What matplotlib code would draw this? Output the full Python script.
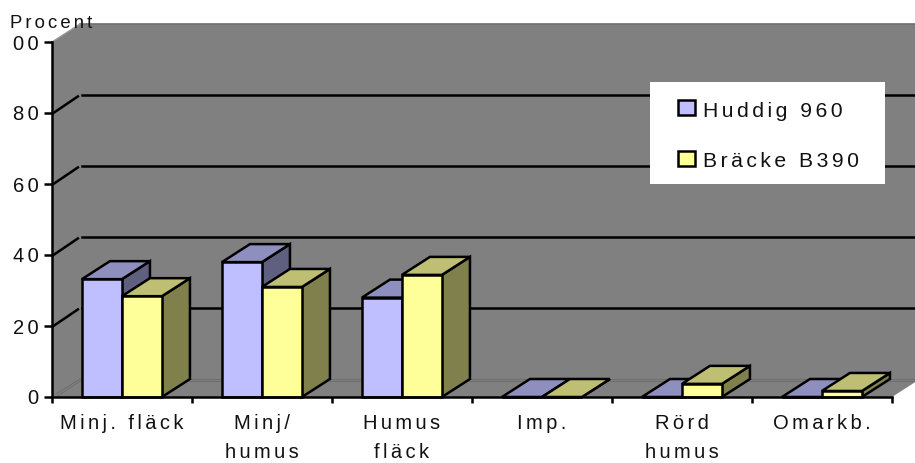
"""Ground preparation shares per site, drawn as an old-style 3D column chart."""
import matplotlib
matplotlib.use("Agg")
import matplotlib.pyplot as plt
from matplotlib.patches import Polygon

categories = ["Minj. fläck", "Minj/\nhumus", "Humus\nfläck", "Imp.", "Rörd\nhumus", "Omarkb."]
huddig = [33.2, 38.0, 28.0, 0, 0, 0]
bracke = [28.4, 31.0, 34.4, 0, 3.7, 1.7]
series_names = ["Huddig 960", "Bräcke B390"]
y_ticks = [0, 20, 40, 60, 80, 100]
y_labels = ["0", "20", "40", "60", "80", "00"]

W, H = 915, 463
AX_L, AX_R, AX_T, AX_B = 52, 892, 42, 397

DX = 0.2    # depth offset in category units
DY = 5.07   # depth offset in percent units
BAR_W = 0.2857
BAR_START = 0.214

BLUE = ("#BFBFFF", "#8F8FBF", "#5F5F7F")
YELLOW = ("#FFFF99", "#BFBF73", "#80804D")
WALL = "#808080"
LW = 1.8

plt.rcParams["font.family"] = ["Liberation Sans", "DejaVu Sans"]
FS = 14.5


def spaced(s):
    # the labels are letter-spaced, six-per-em spaces between glyphs do that
    return "\n".join("\u2006".join(line) for line in s.split("\n"))


def draw_bar(ax, x, w, v, colors):
    front = [(x, 0), (x + w, 0), (x + w, v), (x, v)]
    top = [(x, v), (x + w, v), (x + w + DX, v + DY), (x + DX, v + DY)]
    side = [(x + w, 0), (x + w + DX, DY), (x + w + DX, v + DY), (x + w, v)]
    for pts, col in [(side, colors[2]), (top, colors[1]), (front, colors[0])]:
        ax.add_patch(Polygon(pts, closed=True, facecolor=col, edgecolor="black",
                             linewidth=LW, joinstyle="miter", clip_on=False, zorder=5))


fig = plt.figure(figsize=(W / 100, H / 100), dpi=100)
ax = fig.add_axes([AX_L / W, 1 - AX_B / H, (AX_R - AX_L) / W, (AX_B - AX_T) / H])
ax.set_xlim(0, len(categories))
ax.set_ylim(0, 100)
ax.patch.set_visible(False)

# back wall, runs off the right side of the figure
xr = len(categories)
wall = [(0, 0), (0, 100), (DX, 100 + DY), (xr + DX, 100 + DY), (xr + DX, DY), (xr, 0)]
ax.add_patch(Polygon(wall, closed=True, facecolor=WALL, edgecolor="none", clip_on=False, zorder=0))
ax.plot([DX, xr + DX], [100 + DY, 100 + DY], color="#6e6e6e", lw=1.2, clip_on=False, zorder=1)
ax.plot([0, DX], [100, 100 + DY], color="#999999", lw=1.0, clip_on=False, zorder=1)

# gridlines: wall part plus the short stub on the left side wall
for t in y_ticks[1:-1]:
    ax.plot([0.01, DX - 0.015], [t, t + DY - 0.4], color="black", lw=LW, clip_on=False, zorder=2)
    ax.plot([DX + 0.015, xr + DX], [t + DY, t + DY], color="black", lw=LW, clip_on=False, zorder=2)

# floor seams
for off in (0.0, 0.6):
    ax.plot([0.03, DX], [off * 1.5, DY + off - 0.6], color="#6a6a6a", lw=0.6, clip_on=False, zorder=1)
    ax.plot([DX, xr + DX], [DY + off - 0.6, DY + off - 0.6], color="#6a6a6a", lw=0.6, clip_on=False, zorder=1)

for i, (a, b) in enumerate(zip(huddig, bracke)):
    draw_bar(ax, i + BAR_START, BAR_W, a, BLUE)
    draw_bar(ax, i + BAR_START + BAR_W, BAR_W, b, YELLOW)

for s in ("top", "right"):
    ax.spines[s].set_visible(False)
for s in ("left", "bottom"):
    ax.spines[s].set_linewidth(LW)
    ax.spines[s].set_zorder(6)

ax.set_xticks(range(len(categories) + 1))
ax.set_xticklabels([])
ax.set_xticks([i + 0.5 for i in range(len(categories))], minor=True)
ax.set_xticklabels([spaced(c) for c in categories], minor=True, fontsize=FS,
                   linespacing=1.68, color="#111111")
ax.tick_params(axis="x", which="major", length=4.5, width=LW)
ax.tick_params(axis="x", which="minor", length=0, pad=12)
ax.set_yticks(y_ticks)
ax.set_yticklabels([spaced(s) for s in y_labels], fontsize=FS, color="#111111")
ax.tick_params(axis="y", length=6, width=LW, pad=3.5)

fig.text(10 / W, 1 - 28 / H, spaced("Procent"), fontsize=13.3, color="#111111",
         ha="left", va="baseline", zorder=10)

# legend box, laid out by hand to keep its wide row spacing
fig.patches.append(plt.Rectangle((650 / W, 1 - 184 / H), 235 / W, 102 / H, transform=fig.transFigure,
                                 facecolor="white", edgecolor="none", zorder=8))
for name, col, y_top, y_base in zip(series_names, (BLUE[0], YELLOW[0]), (100, 151), (117, 167)):
    fig.patches.append(plt.Rectangle((678 / W, 1 - (y_top + 15) / H), 17 / W, 15 / H,
                                     transform=fig.transFigure, facecolor=col,
                                     edgecolor="black", linewidth=LW, zorder=9))
    fig.text(703 / W, 1 - y_base / H, spaced(name), fontsize=15.2, color="#111111",
             ha="left", va="baseline", zorder=10)

fig.savefig("out.png", dpi=100)
